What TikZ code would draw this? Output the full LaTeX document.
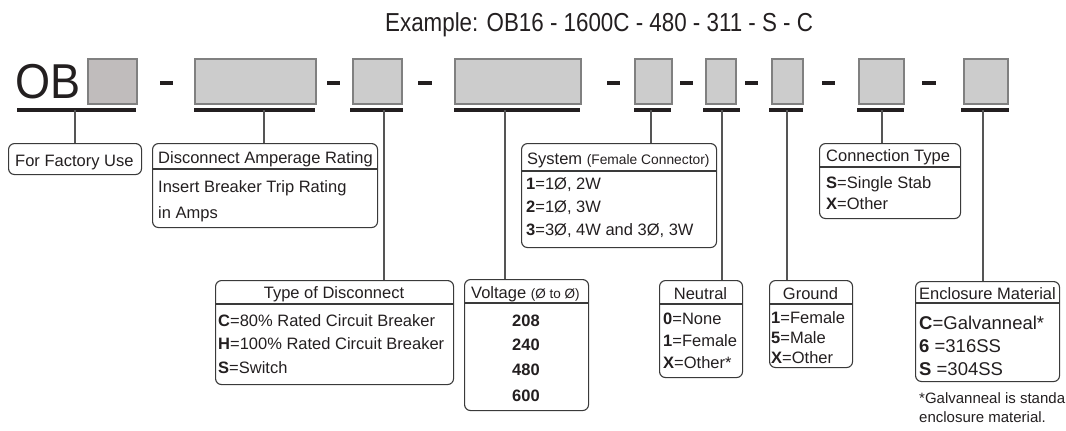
\documentclass[tikz,border=0pt]{standalone}
\usepackage{fontspec}
\setmainfont{Liberation Sans}
\definecolor{codefill}{HTML}{CCCCCC}
\definecolor{obfill}{HTML}{C0BCBC}
\definecolor{codeborder}{HTML}{808080}
\definecolor{barcol}{HTML}{231F20}
\definecolor{boxcol}{HTML}{3A3A3A}
\definecolor{conncol}{HTML}{555555}
\definecolor{txtcol}{HTML}{231F20}
\begin{document}
\begin{tikzpicture}[x=1pt,y=-1pt,
  code/.style={draw=codeborder, line width=1.6pt, fill=codefill, inner sep=0pt, anchor=north west, minimum height=45pt},
  bar/.style={line width=3.2pt, draw=barcol},
  lbl/.style={draw=boxcol, line width=1.1pt, rounded corners=6pt, inner sep=0pt, anchor=north west},
  sepline/.style={draw=boxcol, line width=1.1pt},
  conn/.style={draw=conncol, line width=1.2pt},
  txt/.style={inner sep=0pt, anchor=base west, text=txtcol, font=\fontsize{16.5}{19}\selectfont},
  ctxt/.style={txt, anchor=base},
  btxt/.style={txt, anchor=base, font=\fontsize{16.5}{19}\selectfont\bfseries},
  etxt/.style={txt, font=\fontsize{18.5}{21}\selectfont},
  ftxt/.style={txt, font=\fontsize{15}{18}\selectfont},
]
\useasboundingbox (0,0) rectangle (1066,431);

% title
\node[txt, font=\fontsize{26}{30}\selectfont, xscale=0.86, transform shape] (title) at (385,31) {Example: OB16 - 1600C - 480 - 311 - S - C};

% OB prefix
\node[txt, font=\fontsize{49}{52}\selectfont, xscale=0.92, transform shape] (ob) at (15,98) {OB};

% code boxes
\node[code, fill=obfill, minimum width=49pt] (b0) at (87,58) {};
\node[code, minimum width=121pt] (b1) at (194,58) {};
\node[code, minimum width=49pt] (b2) at (352,58) {};
\node[code, minimum width=126pt] (b3) at (454,58) {};
\node[code, minimum width=37pt] (b4) at (634,58) {};
\node[code, minimum width=30pt] (b5) at (705,58) {};
\node[code, minimum width=31pt] (b6) at (771,58) {};
\node[code, minimum width=45pt] (b7) at (858,58) {};
\node[code, minimum width=44pt] (b8) at (963,58) {};

% dashes
\foreach \xa/\xb in {160/173, 327/340, 418/432, 607/620, 680/693, 745/758, 822/835, 922/936}
  \draw[bar] (\xa,83) -- (\xb,83);

% underlines
\foreach \xa/\xb in {17/136, 194/315, 350/403, 454/580, 634/671, 703/740, 769/803, 857/904, 961/1009}
  \draw[bar] (\xa,110) -- (\xb,110);

% connector start points
\coordinate (c0) at (75,110);
\coordinate (c1) at (264,110);
\coordinate (c2) at (384,110);
\coordinate (c3) at (505,110);
\coordinate (c4) at (651,110);
\coordinate (c5) at (722,110);
\coordinate (c6) at (787,110);
\coordinate (c7) at (882,110);
\coordinate (c8) at (983,110);

% label boxes
\node[lbl, minimum width=133pt, minimum height=31pt] (l0) at (8,143) {};
\node[lbl, minimum width=225pt, minimum height=84pt] (l1) at (152,143) {};
\node[lbl, minimum width=238pt, minimum height=104pt] (l2) at (215,280) {};
\node[lbl, minimum width=124pt, minimum height=131pt] (l3) at (464,279) {};
\node[lbl, minimum width=195pt, minimum height=104pt] (l4) at (521,143) {};
\node[lbl, minimum width=83pt, minimum height=97pt] (l5) at (659,280) {};
\node[lbl, minimum width=83pt, minimum height=87pt] (l6) at (769,280) {};
\node[lbl, minimum width=141pt, minimum height=75pt] (l7) at (819,143) {};
\node[lbl, minimum width=144pt, minimum height=100pt] (l8) at (915,281) {};

% separators
\draw[sepline] ([yshift=-26pt]l1.north west) -- ([yshift=-26pt]l1.north east);
\draw[sepline] ([yshift=-24pt]l2.north west) -- ([yshift=-24pt]l2.north east);
\draw[sepline] ([yshift=-24pt]l3.north west) -- ([yshift=-24pt]l3.north east);
\draw[sepline] ([yshift=-28pt]l4.north west) -- ([yshift=-28pt]l4.north east);
\draw[sepline] ([yshift=-24pt]l5.north west) -- ([yshift=-24pt]l5.north east);
\draw[sepline] ([yshift=-24pt]l6.north west) -- ([yshift=-24pt]l6.north east);
\draw[sepline] ([yshift=-24pt]l7.north west) -- ([yshift=-24pt]l7.north east);
\draw[sepline] ([yshift=-22pt]l8.north west) -- ([yshift=-22pt]l8.north east);

% connectors
\draw[conn] (c0) -- (c0 |- l0.north);
\draw[conn] (c1) -- (c1 |- l1.north);
\draw[conn] (c2) -- (c2 |- l2.north);
\draw[conn] (c3) -- (c3 |- l3.north);
\draw[conn] (c4) -- (c4 |- l4.north);
\draw[conn] (c5) -- (c5 |- l5.north);
\draw[conn] (c6) -- (c6 |- l6.north);
\draw[conn] (c7) -- (c7 |- l7.north);
\draw[conn] (c8) -- (c8 |- l8.north);

% texts: factory
\node[txt] (t0) at (15,166) {For Factory Use};
% disconnect amperage
\node[txt] (t1h) at (158,163) {Disconnect Amperage Rating};
\node[txt] (t1a) at (158,192) {Insert Breaker Trip Rating};
\node[txt] (t1b) at (158,218) {in Amps};
% type of disconnect
\node[ctxt] (t2h) at (334,298) {Type of Disconnect};
\node[txt] (t2a) at (218,326) {\textbf{C}=80\% Rated Circuit Breaker};
\node[txt] (t2b) at (218,349) {\textbf{H}=100\% Rated Circuit Breaker};
\node[txt] (t2c) at (218,373) {\textbf{S}=Switch};
% voltage
\node[txt] (t3h) at (471,298) {Voltage {\fontsize{13.5}{16}\selectfont(Ø to Ø)}};
\node[btxt] (t3a) at (526,326) {208};
\node[btxt] (t3b) at (526,350) {240};
\node[btxt] (t3c) at (526,375) {480};
\node[btxt] (t3d) at (526,401) {600};
% system
\node[txt] (t4h) at (527,164) {System {\fontsize{13.8}{16}\selectfont(Female Connector)}};
\node[txt] (t4a) at (526,189) {\textbf{1}=1Ø, 2W};
\node[txt] (t4b) at (526,212) {\textbf{2}=1Ø, 3W};
\node[txt] (t4c) at (526,235) {\textbf{3}=3Ø, 4W and 3Ø, 3W};
% neutral
\node[ctxt] (t5h) at (700.5,299) {Neutral};
\node[txt] (t5a) at (663,324) {\textbf{0}=None};
\node[txt] (t5b) at (663,346) {\textbf{1}=Female};
\node[txt] (t5c) at (663,368) {\textbf{X}=Other*};
% ground
\node[ctxt] (t6h) at (810.5,299) {Ground};
\node[txt] (t6a) at (771,323) {\textbf{1}=Female};
\node[txt] (t6b) at (771,343) {\textbf{5}=Male};
\node[txt] (t6c) at (771,363) {\textbf{X}=Other};
% connection type
\node[txt] (t7h) at (826,161) {Connection Type};
\node[txt] (t7a) at (826,188) {\textbf{S}=Single Stab};
\node[txt] (t7b) at (826,209) {\textbf{X}=Other};
% enclosure
\node[txt] (t8h) at (919,299) {Enclosure Material};
\node[etxt] (t8a) at (919,329) {\textbf{C}=Galvanneal*};
\node[etxt] (t8b) at (919,352) {\textbf{6} =316SS};
\node[etxt] (t8c) at (919,375) {\textbf{S} =304SS};
% footnote
\node[ftxt] (fn1) at (919,403) {*Galvanneal is standa};
\node[ftxt] (fn2) at (919,422) {enclosure material.};
\end{tikzpicture}
\end{document}
